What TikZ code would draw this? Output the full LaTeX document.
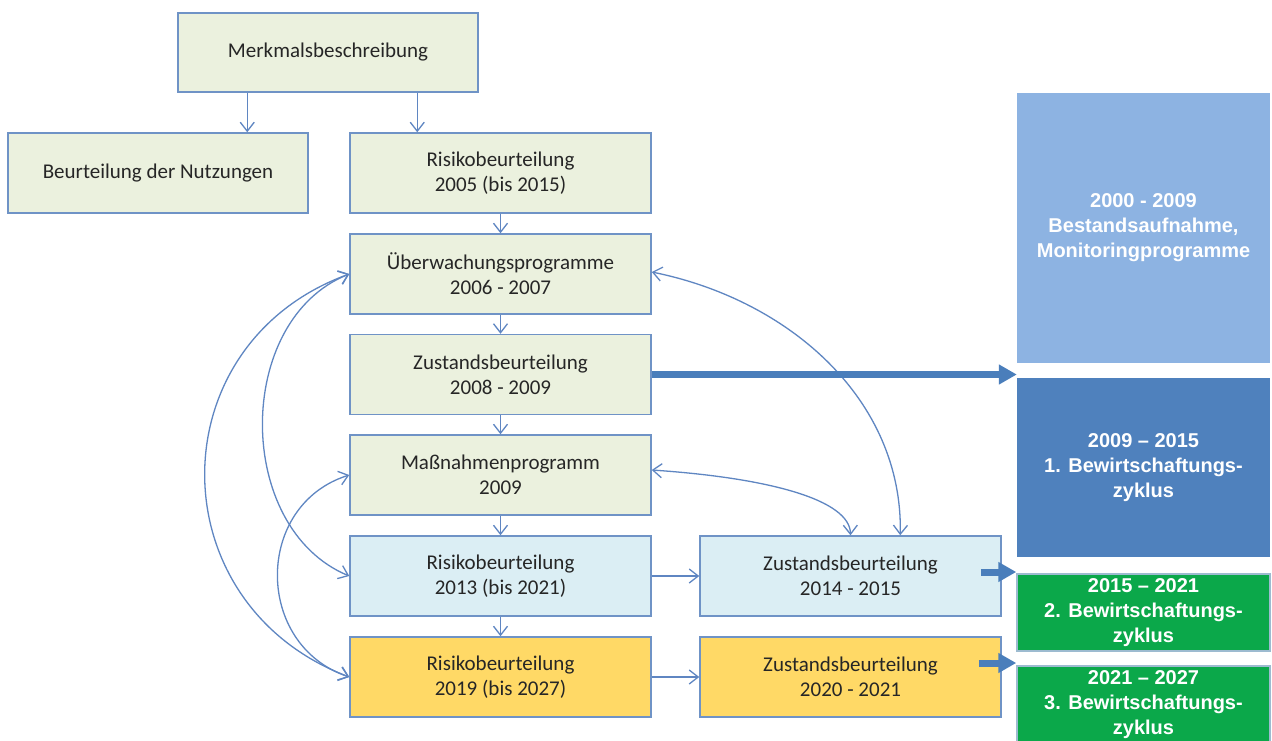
\documentclass[tikz,border=0pt]{standalone}
\usepackage{fontspec}
\setmainfont{Carlito}
\newfontfamily\arialfont{Liberation Sans}
\usetikzlibrary{arrows.meta,calc}
\definecolor{olivefill}{HTML}{EBF1DE}
\definecolor{bluefill}{HTML}{DBEEF4}
\definecolor{yelfill}{HTML}{FFD966}
\definecolor{bordc}{HTML}{6F93C6}
\definecolor{txt}{HTML}{262626}
\definecolor{connc}{HTML}{5F86C2}
\definecolor{thickc}{HTML}{4A7EBB}
\definecolor{lblue}{HTML}{8DB3E2}
\definecolor{dblue}{HTML}{4F81BD}
\definecolor{grn}{HTML}{0BA84A}
\definecolor{grnb}{HTML}{9DBBD0}
\begin{document}
\begin{tikzpicture}[x=1pt,y=-1pt,
  box/.style={draw=bordc, line width=1.5pt, minimum width=301pt, minimum height=80pt,
    inner sep=0pt, align=center, text=txt, font=\fontsize{21}{25}\selectfont},
  gbox/.style={box, fill=olivefill},
  bbox/.style={box, fill=bluefill},
  ybox/.style={box, fill=yelfill},
  rbox/.style={minimum width=253pt, inner sep=0pt, align=center, text=white,
    font=\arialfont\bfseries\fontsize{20}{25}\selectfont},
  thin/.style={draw=connc, line width=1.3pt, -{Straight Barb[length=9pt,width=14pt]}},
  both/.style={draw=connc, line width=1.3pt,
    {Straight Barb[length=9pt,width=14pt]}-{Straight Barb[length=9pt,width=14pt]}},
  thick/.style={draw=thickc, line width=7pt, -{Triangle[length=18pt,width=19pt]}}
]
\useasboundingbox (0,0) rectangle (1272,740);
\fill[white] (0,0) rectangle (1272,740);
\clip (0,0) rectangle (1272,740);

% left column boxes
\node[gbox, minimum width=300pt, minimum height=79pt] (merk) at (328,52.5) {Merkmalsbeschreibung};
\node[gbox, minimum width=300pt] (nutz) at (158,173) {Beurteilung der Nutzungen};
\node[gbox] (r05) at (500.5,173) {Risikobeurteilung\\2005 (bis 2015)};
\node[gbox] (ueb) at (500.5,274) {Überwachungsprogramme\\2006 - 2007};
\node[gbox] (z08) at (500.5,374.5) {Zustandsbeurteilung\\2008 - 2009};
\node[gbox] (mas) at (500.5,475) {Maßnahmenprogramm\\2009};
\node[bbox] (r13) at (500.5,576) {Risikobeurteilung\\2013 (bis 2021)};
\node[ybox] (r19) at (500.5,677) {Risikobeurteilung\\2019 (bis 2027)};
\node[bbox] (z14) at (850.5,576) {Zustandsbeurteilung\\2014 - 2015};
\node[ybox] (z20) at (850.5,677) {Zustandsbeurteilung\\2020 - 2021};

% right column blocks
\node[rbox, fill=lblue, minimum height=270pt] (lb) at (1143.5,228) {2000 - 2009\\Bestandsaufnahme,\\Monitoringprogramme};
\node[rbox, fill=dblue, minimum height=179pt] (db) at (1143.5,467.5) {2009 – 2015\\1. Bewirtschaftungs-\\zyklus};
\node[rbox, fill=grn, draw=grnb, line width=1.5pt, minimum height=77pt] (g1) at (1143.5,612.5) {2015 – 2021\\2. Bewirtschaftungs-\\zyklus};
\node[rbox, fill=grn, draw=grnb, line width=1.5pt, minimum height=78pt] (g2) at (1143.5,705) {2021 – 2027\\3. Bewirtschaftungs-\\zyklus};

% straight connectors
\coordinate (m1) at ($(merk.south west)+(70,0)$);
\coordinate (m2) at ($(merk.south west)+(240,0)$);
\draw[thin] (m1) -- (m1 |- nutz.north);
\draw[thin] (m2) -- (m2 |- r05.north);
\draw[thin] (r05) -- (ueb);
\draw[thin] (ueb) -- (z08);
\draw[thin] (z08) -- (mas);
\draw[thin] (mas) -- (r13);
\draw[thin] (r13) -- (r19);
\draw[thin] (r13) -- (z14);
\draw[thin] (r19) -- (z20);

% curved connectors left
\draw[both] (ueb.west) .. controls (157,344) and (157,604) .. (r19.west);
\draw[both] (ueb.west) .. controls (234,320) and (234,528) .. (r13.west);
\draw[both] (mas.west) .. controls (254,505) and (254,645) .. (r19.west);

% curved connectors right
\coordinate (zt) at ($(z14.north west)+(201,0)$);
\draw[both] ($(ueb.east)+(0,-2)$) .. controls (790,300) and (903,400) .. (zt);
\draw[both] ($(mas.east)+(0,-5)$) .. controls (770,478) and (850,500) .. (z14.north);

% thick arrows
\draw[thick] (z08.east) -- (z08.east -| lb.west);
\coordinate (t1) at ($(z14.east)+(-21,-4)$);
\draw[thick] (t1) -- (t1 -| g1.west);
\coordinate (t2) at ($(z20.east)+(-23,-14)$);
\draw[thick] (t2) -- (t2 -| g2.west);
\end{tikzpicture}
\end{document}
